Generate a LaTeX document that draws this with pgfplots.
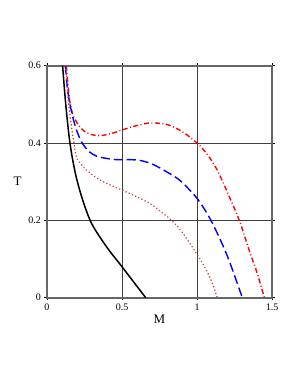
\documentclass[border=0pt]{standalone}
\usepackage{pgfplots}
\pgfplotsset{compat=1.18}
\usepackage{fontspec}
\setmainfont{Liberation Serif}
\definecolor{dotred}{rgb}{0.8,0.25,0.25}
\begin{document}
\begin{tikzpicture}[x=1pt,y=1pt]
\useasboundingbox (0,0) rectangle (300,388);
\begin{axis}[
  at={(47pt,90.3pt)}, anchor=south west,
  scale only axis, width=225pt, height=232pt,
  xmin=0, xmax=1.5, ymin=0, ymax=0.6,
  xtick={0,0.5,1,1.5}, ytick={0,0.2,0.4,0.6},
  xticklabels={0,0.5,1,1.5}, yticklabels={0,0.2,0.4,0.6},
  grid=major, major grid style={black!75, line width=0.8pt},
  axis line style={black!60, line width=1.8pt},
  tick align=outside, major tick length=2.5pt,
  tick style={black, line width=0.8pt},
  ticklabel style={font=\fontsize{10}{12}\selectfont},
  xlabel={M}, ylabel={T},
  label style={font=\fontsize{13}{15}\selectfont},
  xlabel style={at={(axis description cs:0.5,0)}, anchor=north, yshift=-14pt},
  ylabel style={at={(axis description cs:0,0.5)}, anchor=east, rotate=-90, xshift=-22pt},
  clip=true,
]
\addplot[black, line width=1.5pt, smooth] coordinates {
(0.104,0.6) (0.125,0.5) (0.153,0.4) (0.19,0.32) (0.24,0.25) (0.3,0.19) (0.4,0.13) (0.5,0.08) (0.658,0)
};
\addplot[red, line width=1.4pt, smooth, dash pattern=on 5pt off 2.5pt on 1pt off 2.5pt] coordinates {
(0.129,0.6) (0.14,0.55) (0.155,0.5) (0.18,0.466) (0.23,0.437) (0.28,0.424) (0.353,0.419) (0.45,0.427) (0.55,0.44) (0.65,0.45) (0.71,0.452) (0.8,0.448) (0.9,0.43) (1.0,0.4) (1.07,0.37) (1.135,0.33) (1.2,0.275) (1.282,0.2) (1.35,0.12) (1.4,0.065) (1.449,0)
};
\addplot[blue, line width=1.4pt, smooth, dash pattern=on 9pt off 4pt] coordinates {
(0.122,0.6) (0.14,0.53) (0.17,0.47) (0.2,0.43) (0.235,0.4) (0.28,0.378) (0.331,0.366) (0.4,0.36) (0.464,0.357) (0.55,0.357) (0.62,0.355) (0.7,0.346) (0.8,0.325) (0.887,0.303) (1.0,0.257) (1.093,0.2) (1.2,0.11) (1.302,0)
};
\addplot[dotred, line width=1.7pt, smooth, line cap=round, dash pattern=on 0.1pt off 3.4pt] coordinates {
(0.125,0.6) (0.14,0.52) (0.16,0.45) (0.18,0.4) (0.2,0.36) (0.265,0.33) (0.33,0.31) (0.4,0.295) (0.509,0.277) (0.62,0.257) (0.7,0.24) (0.831,0.2) (0.9,0.17) (0.987,0.12) (1.05,0.08) (1.1,0.04) (1.135,0)
};
\end{axis}
\end{tikzpicture}
\end{document}
